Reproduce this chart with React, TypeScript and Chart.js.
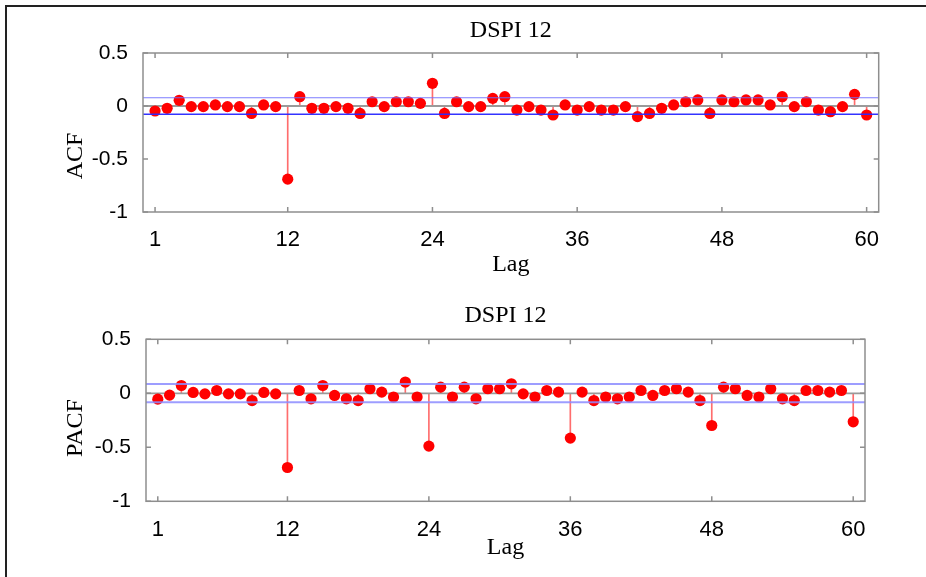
import React, { useEffect, useRef } from "react";
import { Chart, registerables } from "chart.js";

Chart.register(...registerables);

// ---------- data ----------
const TITLE = "DSPI 12";
const LAGS = [
  1, 2, 3, 4, 5, 6, 7, 8, 9, 10, 11, 12, 13, 14, 15, 16, 17, 18, 19, 20,
  21, 22, 23, 24, 25, 26, 27, 28, 29, 30, 31, 32, 33, 34, 35, 36, 37, 38, 39, 40,
  41, 42, 43, 44, 45, 46, 47, 48, 49, 50, 51, 52, 53, 54, 55, 56, 57, 58, 59, 60,
];
const ACF = [
  -0.047, -0.022, 0.054, -0.006, -0.006, 0.01, -0.006, -0.006, -0.07, 0.01,
  -0.006, -0.69, 0.088, -0.022, -0.022, -0.006, -0.022, -0.07, 0.04, -0.006,
  0.04, 0.04, 0.025, 0.214, -0.07, 0.04, -0.006, -0.006, 0.072, 0.088,
  -0.038, -0.006, -0.038, -0.085, 0.01, -0.038, -0.006, -0.038, -0.038, -0.006,
  -0.1, -0.07, -0.022, 0.01, 0.04, 0.057, -0.07, 0.057, 0.04, 0.057,
  0.057, 0.01, 0.088, -0.006, 0.04, -0.038, -0.054, -0.006, 0.11, -0.085,
];
const PACF = [
  -0.054, -0.017, 0.072, 0.008, -0.005, 0.026, -0.005, -0.005, -0.067, 0.008,
  -0.005, -0.687, 0.026, -0.051, 0.072, -0.02, -0.051, -0.067, 0.042, 0.011,
  -0.035, 0.104, -0.035, -0.489, 0.057, -0.035, 0.057, -0.051, 0.042, 0.042,
  0.088, -0.005, -0.035, 0.026, 0.011, -0.415, 0.011, -0.067, -0.035, -0.051,
  -0.035, 0.026, -0.02, 0.026, 0.042, 0.011, -0.067, -0.298, 0.057, 0.042,
  -0.02, -0.035, 0.042, -0.051, -0.067, 0.026, 0.026, 0.011, 0.026, -0.264,
];
const ACF_BOUNDS = [0.078, -0.078];
const PACF_BOUNDS = [0.086, -0.082];
const X_RANGE = [0, 61];
const Y_RANGE = [-1, 0.5];
const X_TICKS = [1, 12, 24, 36, 48, 60];
const Y_TICKS = [-1, -0.5, 0, 0.5];

// ---------- styling ----------
const SERIF = "'Liberation Serif', 'Times New Roman', serif";
const SANS = "'Liberation Sans', Arial, sans-serif";

const boxPlugin = {
  id: "matlabBox",
  afterDatasetsDraw(chart: any) {
    const { ctx, chartArea: a, scales } = chart;
    ctx.save();
    ctx.strokeStyle = "#8e8e8e";
    ctx.lineWidth = 1.5;
    ctx.strokeRect(a.left, a.top, a.right - a.left, a.bottom - a.top);
    const tl = 5;
    ctx.beginPath();
    X_TICKS.forEach((v) => {
      const px = scales.x.getPixelForValue(v);
      ctx.moveTo(px, a.top);
      ctx.lineTo(px, a.top + tl);
      ctx.moveTo(px, a.bottom);
      ctx.lineTo(px, a.bottom - tl);
    });
    Y_TICKS.forEach((v) => {
      const py = scales.y.getPixelForValue(v);
      ctx.moveTo(a.left, py);
      ctx.lineTo(a.left + tl, py);
      ctx.moveTo(a.right, py);
      ctx.lineTo(a.right - tl, py);
    });
    ctx.stroke();
    ctx.restore();
  },
};

// y-axis label drawn as canvas text at MATLAB's position
const yLabelPlugin = {
  id: "yLabel",
  afterDraw(chart: any, _args: any, opts: any) {
    if (!opts || !opts.text) return;
    const { ctx } = chart;
    ctx.save();
    ctx.translate(opts.x, opts.y);
    ctx.rotate(-Math.PI / 2);
    ctx.fillStyle = "#000";
    ctx.font = `normal 24px ${SERIF}`;
    ctx.textAlign = "center";
    ctx.textBaseline = "middle";
    ctx.fillText(opts.text, 0, 0);
    ctx.restore();
  },
};

type Geom = {
  titlePadTop: number;
  titlePadBottom: number;
  yWidth: number;
  yLabelX: number;
  yLabelY: number;
  xHeight: number;
  xTitlePadBottom: number;
  xTickPad: number;
  padRight: number;
  boundColors: string[];
  boundWidths: number[];
};

function makeConfig(values: number[], bounds: number[], yLabel: string, g: Geom): any {
  return {
    type: "bar",
    data: {
      datasets: [
        {
          type: "bar",
          data: LAGS.map((l, i) => ({ x: l, y: values[i] })),
          backgroundColor: "rgba(255,60,60,0.75)",
          barThickness: 1,
          order: 5,
        },
        {
          type: "line",
          data: [
            { x: X_RANGE[0], y: 0 },
            { x: X_RANGE[1], y: 0 },
          ],
          borderColor: "#9a9a9a",
          borderWidth: 1.8,
          pointRadius: 0,
          order: 4,
        },
        {
          type: "scatter",
          data: LAGS.map((l, i) => ({ x: l, y: values[i] })),
          backgroundColor: "#ff0000",
          borderColor: "#ff0000",
          borderWidth: 0,
          pointRadius: 5.6,
          order: 3,
        },
        ...bounds.map((b, k) => ({
          type: "line",
          data: [
            { x: X_RANGE[0], y: b },
            { x: X_RANGE[1], y: b },
          ],
          borderColor: g.boundColors[k],
          borderWidth: g.boundWidths[k],
          pointRadius: 0,
          order: 1,
        })),
      ],
    },
    options: {
      responsive: false,
      animation: false,
      devicePixelRatio: 1,
      layout: { padding: { left: 0, right: g.padRight, top: 0, bottom: 0 } },
      plugins: {
        legend: { display: false },
        tooltip: { enabled: false },
        title: {
          display: true,
          fullSize: false,
          text: TITLE,
          color: "#000",
          font: { family: SERIF, size: 24, weight: "normal", lineHeight: 1.2 },
          padding: { top: g.titlePadTop, bottom: g.titlePadBottom },
        },
        yLabel: { text: yLabel, x: g.yLabelX, y: g.yLabelY },
      },
      scales: {
        x: {
          type: "linear",
          min: X_RANGE[0],
          max: X_RANGE[1],
          offset: false,
          grid: { display: false },
          border: { display: false },
          afterBuildTicks: (s: any) => {
            s.ticks = X_TICKS.map((v) => ({ value: v }));
          },
          afterFit: (s: any) => {
            s.height = g.xHeight;
          },
          ticks: {
            color: "#000",
            font: { family: SANS, size: 22 },
            padding: g.xTickPad,
            maxRotation: 0,
            autoSkip: false,
            callback: (v: any) => String(v),
          },
          title: {
            display: true,
            text: "Lag",
            color: "#000",
            font: { family: SERIF, size: 24, lineHeight: 1.2 },
            padding: { top: 0, bottom: g.xTitlePadBottom },
          },
        },
        y: {
          type: "linear",
          min: Y_RANGE[0],
          max: Y_RANGE[1],
          grid: { display: false },
          border: { display: false },
          afterBuildTicks: (s: any) => {
            s.ticks = Y_TICKS.map((v) => ({ value: v }));
          },
          afterFit: (s: any) => {
            s.width = g.yWidth;
          },
          ticks: {
            color: "#000",
            font: { family: SANS, size: 21 },
            padding: 7,
            callback: (v: any) => String(v),
          },
          title: { display: false, text: yLabel },
        },
      },
    },
    plugins: [boxPlugin, yLabelPlugin],
  };
}

const TOP_GEOM: Geom = {
  titlePadTop: 16,
  titlePadBottom: 8.2,
  yWidth: 143,
  yLabelX: 76,
  yLabelY: 156,
  xHeight: 78,
  xTitlePadBottom: 10.6,
  xTickPad: 7,
  padRight: 47.3,
  boundColors: ["rgba(110,110,255,0.9)", "rgba(40,40,255,0.95)"],
  boundWidths: [1.2, 1.5],
};

const BOTTOM_GEOM: Geom = {
  titlePadTop: 11.6,
  titlePadBottom: 8.9,
  yWidth: 146,
  yLabelX: 76,
  yLabelY: 138,
  xHeight: 75.7,
  xTitlePadBottom: 14.6,
  xTickPad: 7,
  padRight: 61,
  boundColors: ["rgba(140,140,255,0.85)", "rgba(140,140,255,0.85)"],
  boundWidths: [2, 2],
};

function Plot(props: { values: number[]; bounds: number[]; yLabel: string; geom: Geom; top: number; height: number }) {
  const ref = useRef<HTMLCanvasElement | null>(null);
  useEffect(() => {
    if (!ref.current) return;
    const chart = new Chart(ref.current, makeConfig(props.values, props.bounds, props.yLabel, props.geom));
    return () => chart.destroy();
  }, []);
  return (
    <canvas
      ref={ref}
      width={926}
      height={props.height}
      style={{ position: "absolute", left: 0, top: props.top, width: 926, height: props.height }}
    />
  );
}

export default function App() {
  return (
    <div
      style={{
        position: "fixed",
        left: 0,
        top: 0,
        width: 926,
        height: 577,
        overflow: "hidden",
        background: "#fff",
      }}
    >
      <Plot values={ACF} bounds={ACF_BOUNDS} yLabel="ACF" geom={TOP_GEOM} top={0} height={290} />
      <Plot values={PACF} bounds={PACF_BOUNDS} yLabel="PACF" geom={BOTTOM_GEOM} top={290} height={287} />
      <div
        style={{
          position: "absolute",
          left: 5,
          top: 5,
          width: 960,
          height: 640,
          borderLeft: "2px solid #222",
          borderTop: "2px solid #222",
          pointerEvents: "none",
        }}
      />
    </div>
  );
}
